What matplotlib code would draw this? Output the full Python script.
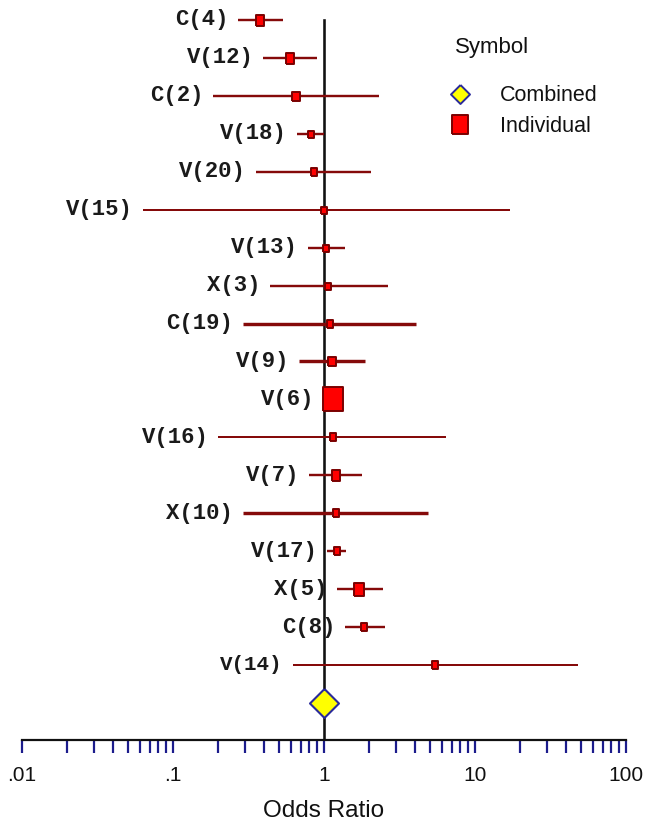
import matplotlib
matplotlib.use('Agg')
import matplotlib.pyplot as plt
import numpy as np
from matplotlib.lines import Line2D
from matplotlib.ticker import LogLocator, FixedLocator, FixedFormatter, NullFormatter

# ---- data ----
studies = ['C(4)', 'V(12)', 'C(2)', 'V(18)', 'V(20)', 'V(15)', 'V(13)', 'X(3)',
           'C(19)', 'V(9)', 'V(6)', 'V(16)', 'V(7)', 'X(10)', 'V(17)', 'X(5)',
           'C(8)', 'V(14)']
odds = [0.377, 0.596, 0.65, 0.82, 0.86, 1.0, 1.03, 1.06, 1.1, 1.13, 1.15,
        1.15, 1.2, 1.2, 1.22, 1.7, 1.84, 5.4]
ci_low = [0.27, 0.395, 0.184, 0.66, 0.354, 0.063, 0.78, 0.44, 0.29, 0.68,
          1.0, 0.2, 0.8, 0.29, 1.05, 1.22, 1.38, 0.62]
ci_high = [0.535, 0.90, 2.31, 1.0, 2.05, 17.0, 1.38, 2.65, 4.06, 1.87,
           1.3, 6.4, 1.78, 4.9, 1.4, 2.46, 2.53, 48.0]
combined_or = 1.0
tick_values = [0.01, 0.1, 1, 10, 100]
tick_labels = ['.01', '.1', '1', '10', '100']

# ---- styles (not data) ----
marker_h_px = [11, 11, 9, 7, 8, 7, 7, 7, 8, 9, 24, 8, 11, 8, 8, 13, 8, 8]
line_w_px = [2.4, 2.4, 2.4, 2.4, 2.4, 2.0, 2.4, 2.4, 3.4, 3.4, 2.4, 2.0, 2.4,
             3.4, 2.4, 2.4, 2.4, 2.0]
label_fs = [16] * 17 + [15]

plt.rcParams['font.family'] = ['Liberation Sans', 'DejaVu Sans']

W, H = 646, 821
fig = plt.figure(figsize=(W / 100, H / 100), dpi=100)
ax = fig.add_axes([22 / W, 81 / H, 604 / W, 740 / H])

row_px0, row_step = 20.0, 37.94
y_top = (0 - row_px0) / row_step
y_bot = (740 - row_px0) / row_step
ax.set_xscale('log')
ax.set_xlim(0.01, 100)
ax.set_ylim(y_bot, y_top)

rows = np.arange(len(studies))
comb_row = len(studies)

rect = [(-0.4, -0.5), (0.4, -0.5), (0.4, 0.5), (-0.4, 0.5), (-0.4, -0.5)]
diamond = [(0, 0.5), (0.5, 0), (0, -0.5), (-0.5, 0), (0, 0.5)]

line_col = '#850a0a'
px2pt = 0.72

# reference line at OR = 1
ax.axvline(1.0, ymin=0, ymax=(y_bot - 0) / (y_bot - y_top), color='#111111',
           lw=2.6 * px2pt, zorder=2)

for i, name in enumerate(studies):
    ax.hlines(rows[i], ci_low[i], ci_high[i], color=line_col,
              lw=line_w_px[i] * px2pt, zorder=3)
    ax.plot([odds[i]], [rows[i]], ls='none', marker=rect,
            ms=marker_h_px[i] * px2pt, mfc='#ff0000', mec='#7a0000',
            mew=1.4, zorder=4)
    ax.annotate(name, xy=(min(ci_low[i], odds[i]), rows[i]), xytext=(-7, 0),
                textcoords='offset points', ha='right', va='center',
                fontfamily='Liberation Mono', fontweight='bold',
                fontsize=label_fs[i], color='#1a1a1a')

ax.plot([combined_or], [comb_row], ls='none', marker=diamond, ms=29 * px2pt,
        mfc='#ffff00', mec='#2a2a9a', mew=1.5, zorder=5)

# axes styling
for s in ['top', 'left', 'right']:
    ax.spines[s].set_visible(False)
ax.spines['bottom'].set_linewidth(2.2 * px2pt)
ax.spines['bottom'].set_color('#111111')
ax.set_yticks([])
ax.xaxis.set_major_locator(FixedLocator(tick_values))
ax.xaxis.set_major_formatter(FixedFormatter(tick_labels))
ax.xaxis.set_minor_locator(LogLocator(base=10, subs=np.arange(2, 10), numticks=30))
ax.xaxis.set_minor_formatter(NullFormatter())
ax.tick_params(axis='x', which='both', direction='out', length=13 * px2pt,
               width=2.2 * px2pt, color='#1c1c8c', labelsize=15, pad=9,
               labelcolor='#111111')
ax.set_xlabel('Odds Ratio', fontsize=17.5, labelpad=11, color='#111111')

# legend
fig.text(455 / W, 1 - 48 / H, 'Symbol', fontsize=16, ha='left', va='center',
         color='#111111')
handles = [
    Line2D([], [], ls='none', marker=diamond, ms=19 * px2pt, mfc='#ffff00',
           mec='#2a2a9a', mew=1.4),
    Line2D([], [], ls='none', marker=rect, ms=19 * px2pt, mfc='#ff0000',
           mec='#7a0000', mew=1.4),
]
fs_leg = 15.5
leg = fig.legend(handles, ['Combined', 'Individual'], loc='center left',
                 bbox_to_anchor=(441 / W, 1 - 111 / H), frameon=False,
                 fontsize=fs_leg, handlelength=1.0, handletextpad=1.32,
                 borderpad=0.4, labelspacing=0.42, borderaxespad=0)
for t in leg.get_texts():
    t.set_color('#111111')

fig.savefig('out.png', dpi=100)
